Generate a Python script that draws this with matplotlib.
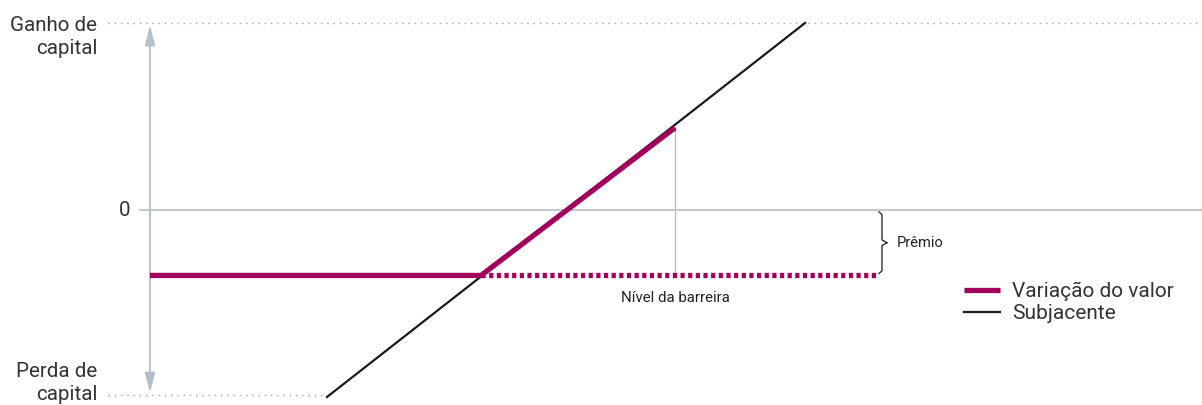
import matplotlib
matplotlib.use("Agg")

import matplotlib.pyplot as plt
from matplotlib.lines import Line2D

# Dados (unidades do gráfico: x ~ preço do subjacente, y ~ ganho/perda)
subjacente_x = [3.27, 8.05]
subjacente_y = [-2.0, 2.0]

valor_x = [1.50, 4.81, 6.75]
valor_y = [-0.70, -0.70, 0.88]

barreira_x = [4.81, 8.77]
premio = -0.70
ganho_max = 2.0
perda_max = -1.98

rotulos_y = ["Ganho de\ncapital", "0", "Perda de\ncapital"]
legenda = ["Variação do valor", "Subjacente"]

MAGENTA = "#a3005b"
CINZA = "#b3c0cb"
PRETO = "#1a1a1a"
TEXTO = "#333333"

plt.rcParams["font.family"] = ["Roboto", "DejaVu Sans"]

fig = plt.figure(figsize=(12.02, 4.05), dpi=100)
ax = fig.add_axes([0, 0, 1, 1])
ax.set_xlim(0, 12.02)
ax.set_ylim((210 - 405) / 93.5, 210 / 93.5)
ax.axis("off")

eixo_x = 1.50

# linhas pontilhadas de referência
ax.plot([1.08, 12.02], [ganho_max, ganho_max], color="#9aa4ae", lw=1.0,
        linestyle=(0, (1, 3.5)), zorder=1)
ax.plot([1.08, subjacente_x[0]], [perda_max, perda_max], color="#9aa4ae", lw=1.0,
        linestyle=(0, (1, 3.5)), zorder=1)

# linha do zero
ax.plot([1.40, 12.02], [0, 0], color=CINZA, lw=1.2, zorder=1)

# eixo vertical com setas
seta = dict(arrowstyle="-|>,head_width=0.3,head_length=1.2",
            color=CINZA, lw=1.4, shrinkA=0, shrinkB=0)
ax.annotate("", xy=(eixo_x, ganho_max - 0.02), xytext=(eixo_x, 0),
            arrowprops=seta, zorder=1)
ax.annotate("", xy=(eixo_x, perda_max + 0.02), xytext=(eixo_x, 0),
            arrowprops=seta, zorder=1)

# linha vertical no nível da barreira
ax.plot([valor_x[-1], valor_x[-1]], [premio, valor_y[-1]], color=CINZA, lw=1.0, zorder=1)

# subjacente
ax.plot(subjacente_x, subjacente_y, color=PRETO, lw=1.6, zorder=3)

# variação do valor
ax.plot(valor_x, valor_y, color=MAGENTA, lw=3.8, solid_capstyle="butt",
        solid_joinstyle="miter", zorder=4)
ax.plot(barreira_x, [premio, premio], color=MAGENTA, lw=3.8,
        linestyle=(0, (0.8, 0.65)), dash_capstyle="butt", zorder=4)

# chave do prêmio
bx = 8.82
y_top, y_bot = -0.02, premio + 0.02
mid = (y_top + y_bot) / 2
ax.plot([bx - 0.03, bx, bx, bx + 0.05], [y_top, y_top - 0.03, mid + 0.03, mid],
        color=PRETO, lw=0.9, zorder=3)
ax.plot([bx + 0.05, bx, bx, bx - 0.03], [mid, mid - 0.03, y_bot + 0.03, y_bot],
        color=PRETO, lw=0.9, zorder=3)

ax.text(bx + 0.15, mid, "Prêmio", fontsize=10.5, va="center", ha="left", color="#222222")
ax.text(valor_x[-1], premio - 0.24, "Nível da barreira", fontsize=10.8,
        va="center", ha="center", color="#222222")

# rótulos do eixo y
ax.text(0.97, ganho_max - 0.15, rotulos_y[0], fontsize=14.8, ha="right", va="center",
        color=TEXTO, linespacing=1.3)
ax.text(1.30, 0, rotulos_y[1], fontsize=14.8, ha="right", va="center", color=TEXTO)
ax.text(0.97, perda_max + 0.13, rotulos_y[2], fontsize=14.8, ha="right", va="center",
        color=TEXTO, linespacing=1.3)

# legenda
handles = [Line2D([], [], color=MAGENTA, lw=3.8, solid_capstyle="butt"),
           Line2D([], [], color=PRETO, lw=1.6)]
ax.legend(handles, legenda, loc="upper left", bbox_to_anchor=(0.795, 0.325),
          frameon=False, fontsize=15, handlelength=1.75, handletextpad=0.55,
          labelspacing=0.15, borderaxespad=0, labelcolor=TEXTO)

fig.savefig("out.png", dpi=100)
plt.close(fig)
